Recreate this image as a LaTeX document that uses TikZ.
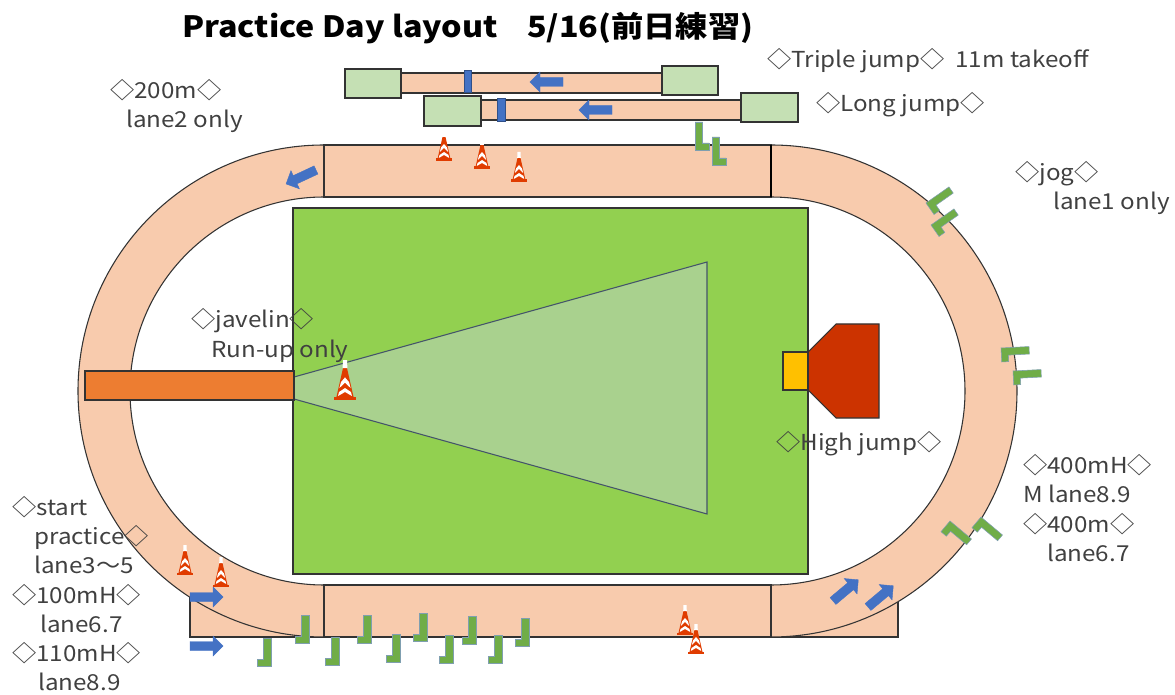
\documentclass[tikz,border=0pt]{standalone}
\usepackage{fontspec}
\setmainfont[FakeStretch=1.1]{Noto Sans CJK JP}
\definecolor{trackfill}{HTML}{F8CBAD}
\definecolor{fieldgreen}{HTML}{92D050}
\definecolor{sectorgreen}{HTML}{A9D18E}
\definecolor{sectoredge}{HTML}{44546A}
\definecolor{pitgreen}{HTML}{C5E0B4}
\definecolor{runorange}{HTML}{ED7D31}
\definecolor{matyellow}{HTML}{FFC000}
\definecolor{matred}{HTML}{CC3300}
\definecolor{arrowblue}{HTML}{4472C4}
\definecolor{hurdlegreen}{HTML}{70AD47}
\definecolor{hurdleedge}{HTML}{7F9FB0}
\definecolor{conered}{HTML}{E03C00}
\definecolor{labelgray}{HTML}{404040}
\tikzset{
  outline/.style={draw=black!80,line width=0.8pt},
  label text/.style={anchor=base west,inner sep=0pt,text=labelgray,font=\fontsize{16.5}{20}\selectfont},
  blockarrow/.pic={
    \draw[fill=arrowblue,draw=arrowblue,line width=0.3pt] (0,-4.5)--(23,-4.5)--(23,-10)--(33,0)--(23,10)--(23,4.5)--(0,4.5)--cycle;
  },
  lhurdle/.pic={
    \draw[fill=hurdlegreen,draw=hurdleedge,line width=0.4pt] (0,0)--(0,-28)--(7.5,-28)--(7.5,-7)--(14,-7)--(14,0)--cycle;
  },
  jhurdle/.pic={
    \draw[fill=hurdlegreen,draw=hurdleedge,line width=0.4pt] (0,0)--(0,-28)--(-7.5,-28)--(-7.5,-7)--(-14,-7)--(-14,0)--cycle;
  },
  cone/.pic={
    \fill[conered] (-8,-2.5) rectangle (8,0);
    \fill[conered] (-6.5,-2)--(-1.5,-24)--(1.5,-24)--(6.5,-2)--cycle;
    \fill[white] (-1.5,-30)--(1.5,-30)--(1.8,-24)--(-1.8,-24)--cycle;
    \fill[white] (0,-17)--(3,-13.5)--(4.2,-9)--(0,-13)--(-4.2,-9)--(-3,-13.5)--cycle;
    \fill[white] (0,-9)--(4.5,-6)--(5.2,-3)--(0,-6)--(-5.2,-3)--(-4.5,-6)--cycle;
  }
}
\begin{document}
\begin{tikzpicture}[x=0.75pt,y=-0.75pt]
    \useasboundingbox (0,0) rectangle (1175,695);
    \coordinate (outerTL) at (324,145);
    \coordinate (outerTR) at (771,145);
    \coordinate (outerBL) at (324,637);
    \coordinate (outerBR) at (771,637);
    \coordinate (innerTL) at (324,197);
    \coordinate (innerTR) at (771,197);
    \coordinate (innerBL) at (324,585);
    \coordinate (innerBR) at (771,585);
    \draw[outline,fill=trackfill] (190,597) rectangle (outerBL);
    \draw[outline,fill=trackfill] (outerBR) rectangle (898,597);
    \draw[outline,fill=trackfill] (outerTL) arc (-90:-270:246) -- (innerBL) arc (-270:-90:194) -- cycle;
    \draw[outline,fill=trackfill] (outerTR) arc (-90:90:246) -- (innerBR) arc (90:-90:194) -- cycle;
    \draw[outline,fill=trackfill] (outerTL) rectangle (innerTR);
    \draw[outline,fill=trackfill] (innerBL) rectangle (outerBR);
    \draw[black,line width=1.2pt] (outerTR)--(innerTR);
    \draw[outline,fill=fieldgreen] (293,208) rectangle (808,574);
    \draw[draw=sectoredge,line width=0.8pt,fill=sectorgreen] (294,377)--(707,262)--(707,514)--(294,399)--cycle;
    \draw[outline,fill=runorange] (85,371) rectangle (294,400);
    \draw[outline,fill=matred] (808,352)--(836,324)--(879,324)--(879,418)--(836,418)--(808,390)--cycle;
    \draw[outline,fill=matyellow] (783,352) rectangle (808,390);
    \draw[outline,fill=trackfill] (401,73) rectangle (662,93);
    \draw[outline,fill=trackfill] (481,100) rectangle (741,120);
    \draw[outline,fill=pitgreen] (345,69) rectangle (401,98);
    \draw[outline,fill=pitgreen] (662,66) rectangle (718,95);
    \draw[outline,fill=pitgreen] (424,96) rectangle (481,126);
    \draw[outline,fill=pitgreen] (741,93) rectangle (798,122);
    \draw[fill=arrowblue,draw=arrowblue!70!black,line width=0.5pt] (464,70) rectangle (471,92);
    \draw[fill=arrowblue,draw=arrowblue!70!black,line width=0.5pt] (497,98) rectangle (505,121);
    \pic[rotate=180] at (563,82) {blockarrow};
    \pic[rotate=180] at (612,110) {blockarrow};
    \pic[rotate=205] at (316,170) {blockarrow};
    \pic at (190,597) {blockarrow};
    \pic at (190,646) {blockarrow};
    \pic[rotate=40] at (833,601) {blockarrow};
    \pic[rotate=40] at (868,607) {blockarrow};
    \pic at (695,150) {lhurdle};
    \pic at (712,165) {lhurdle};
    \pic[rotate=-55] at (926,203) {lhurdle};
    \pic[rotate=-55] at (931,225) {lhurdle};
    \pic[rotate=-87] at (1001,348) {lhurdle};
    \pic[rotate=-87] at (1013,371) {lhurdle};
    \pic[rotate=-130] at (950,521) {lhurdle};
    \pic[rotate=-130] at (981,517) {lhurdle};
    \pic at (271,666) {jhurdle};
    \pic at (309,643) {jhurdle};
    \pic at (339,665) {jhurdle};
    \pic at (371,643) {jhurdle};
    \pic at (400,662) {jhurdle};
    \pic at (427,641) {jhurdle};
    \pic at (453,663) {jhurdle};
    \pic at (476,644) {jhurdle};
    \pic at (502,663) {jhurdle};
    \pic at (529,646) {jhurdle};
    \node[label text,text=black,font=\fontsize{22}{24}\selectfont\bfseries] (title) at (182,38) {Practice Day layout\hspace{1em}5/16(前日練習)};
    \node[label text] (tripleLabel) at (767,68) {◇Triple jump◇\hspace{0.5em}11m takeoff};
    \node[label text] (longLabel) at (816,112) {◇Long jump◇};
    \node[label text] (twoHundredA) at (110,99) {◇200m◇};
    \node[label text] (twoHundredB) at (126,128) {lane2 only};
    \node[label text] (jogA) at (1015,181) {◇jog◇};
    \node[label text] (jogB) at (1053,210) {lane1 only};
    \node[label text] (javelinA) at (191,328) {◇javelin◇};
    \node[label text] (javelinB) at (211,358) {Run-up only};
    \node[label text] (highLabel) at (776,450) {◇High jump◇};
    \node[label text] (hurdleA) at (1023,473) {◇400mH◇};
    \node[label text] (hurdleB) at (1023,502) {M lane8.9};
    \node[label text] (hurdleC) at (1023,532) {◇400m◇};
    \node[label text] (hurdleD) at (1047,561) {lane6.7};
    \node[label text] (startA) at (12,515) {◇start};
    \node[label text] (startB) at (34,544) {practice◇};
    \node[label text] (startC) at (34,573) {lane3〜5};
    \node[label text] (startD) at (12,603) {◇100mH◇};
    \node[label text] (startE) at (40,632) {lane6.7};
    \node[label text] (startF) at (12,661) {◇110mH◇};
    \node[label text] (startG) at (38,690) {lane8.9};
    \pic at (444,161) {cone};
    \pic at (482,169) {cone};
    \pic at (519,182) {cone};
    \pic[scale=1.33] at (345,400) {cone};
    \pic at (185,575) {cone};
    \pic at (221,587) {cone};
    \pic at (685,635) {cone};
    \pic at (696,654) {cone};
\end{tikzpicture}
\end{document}
